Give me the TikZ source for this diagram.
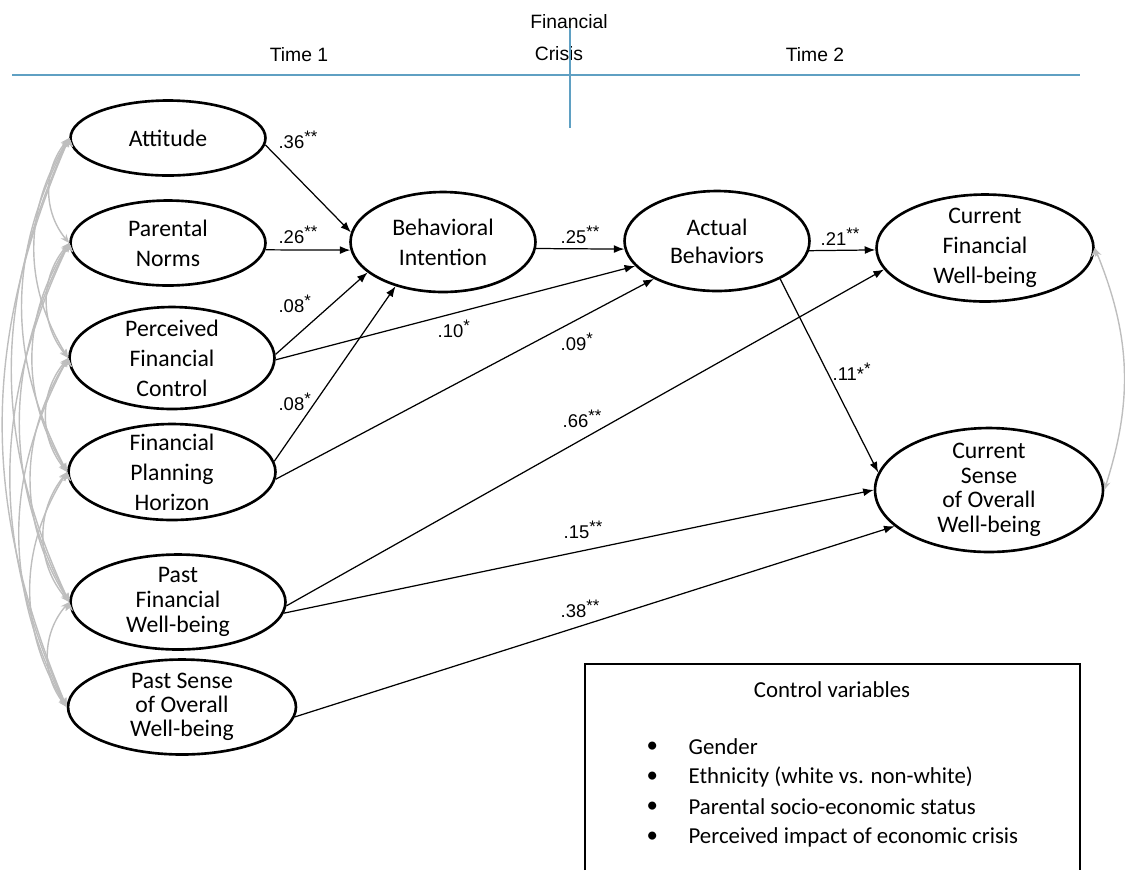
\documentclass[tikz,border=0pt]{standalone}
\usepackage{fontspec}
\setmainfont{Carlito}
\newfontfamily\arialfont{Liberation Sans}
\usetikzlibrary{shapes.geometric,arrows.meta}
\definecolor{timeblue}{RGB}{95,160,195}
\definecolor{covgray}{RGB}{190,190,190}
\newcommand{\sig}[1]{{\fontsize{9.5}{9.5}\selectfont\raisebox{3pt}{#1}}}
\tikzstyle{lv}=[shape=ellipse,
                draw=black,
                line width=1.5pt,
                inner xsep=0pt,
                inner ysep=-15pt,
                align=center,
                font=\fontsize{13.5}{17}\selectfont]
\tikzstyle{coef}=[inner sep=0pt,
                  anchor=base west,
                  font=\arialfont\fontsize{10.5}{12}\selectfont]
\tikzstyle{hdr}=[inner sep=0pt,
                 font=\arialfont\fontsize{11}{13}\selectfont]
\tikzstyle{cov}=[draw=covgray,
                 line width=0.8pt,
                 {Stealth[length=5pt,width=4pt]}-{Stealth[length=5pt,width=4pt]}]
\tikzstyle{ctrl}=[inner sep=0pt,
                  anchor=west,
                  font=\fontsize{13}{16}\selectfont]

\begin{document}
\begin{tikzpicture}[x=0.02cm,y=-0.02cm,
  >={Latex[length=6pt,width=4.5pt]},line width=0.7pt]
\useasboundingbox (0,0) rectangle (1125,870);

% time line
\node[hdr] (fin) at (569,22) {Financial};
\node[hdr] (cri) at (559,54) {Crisis};
\node[hdr] (t1) at (299,55) {Time 1};
\node[hdr] (t2) at (815,55) {Time 2};
\coordinate (hl) at (12,75);
\coordinate (hr) at (1080,75);
\coordinate (vt) at (570,28);
\coordinate (vb) at (570,128);
\draw[timeblue,line width=0.8pt] (hl) -- (hr);
\draw[timeblue,line width=0.8pt] (vt) -- (vb);

% time 1 variables
\node[lv,minimum width=3.9cm,minimum height=1.5cm] (att) at (168,138) {Attitude};
\node[lv,minimum width=3.9cm,minimum height=1.7cm] (pn) at (168,243) {Parental\\Norms};
\node[lv,minimum width=4.1cm,minimum height=2.04cm] (pfc) at (172,358) {Perceived\\Financial\\Control};
\node[lv,minimum width=4.14cm,minimum height=1.92cm] (fph) at (172,472) {Financial\\Planning\\Horizon};
\node[lv,minimum width=4.3cm,minimum height=1.9cm,font=\fontsize{13.5}{14}\selectfont] (pfw) at (178,602) {Past\\Financial\\Well-being};
\node[lv,minimum width=4.56cm,minimum height=1.9cm,font=\fontsize{13.5}{13.5}\selectfont] (psw) at (182,707) {Past Sense\\of Overall\\Well-being};

% time 2 variables
\node[lv,minimum width=3.7cm,minimum height=2cm] (bi) at (443,242) {Behavioral\\Intention};
\node[lv,minimum width=3.7cm,minimum height=2cm,font=\fontsize{13.5}{16}\selectfont] (ab) at (717,241) {Actual\\Behaviors};
\node[lv,minimum width=4.34cm,minimum height=2.14cm] (cfw) at (985,248) {Current\\Financial\\Well-being};
\node[lv,minimum width=4.56cm,minimum height=2.48cm,font=\fontsize{13.5}{14}\selectfont] (csw) at (989,490) {Current\\Sense\\of Overall\\Well-being};

% paths
\path[->] (att.-4) edge (bi.174);
\path[->] (pn.-4) edge (bi.185);
\path[->] (pfc.2) edge (bi.-158);
\path[->] (pfc.-1) edge (ab.197);
\path[->] (fph.6) edge (bi.223);
\path[->] (fph.-4) edge (ab.211);
\path[->] (pfw.-2) edge (cfw.192);
\path[->] (pfw.-6) edge (csw.180);
\path[->] (psw.-5) edge (csw.201);
\path[->] (bi.-4) edge (ab.185);
\path[->] (ab.-6) edge (cfw.181);
\path[->] (ab.-31) edge (csw.171);

% path coefficients
\node[coef] (c1) at (278,148) {.36\sig{**}};
\node[coef] (c2) at (278,243) {.26\sig{**}};
\node[coef] (c3) at (278,312) {.08\sig{*}};
\node[coef] (c4) at (437,337) {.10\sig{*}};
\node[coef] (c5) at (278,410) {.08\sig{*}};
\node[coef] (c6) at (560,350) {.09\sig{*}};
\node[coef] (c7) at (562,427) {.66\sig{**}};
\node[coef] (c8) at (563,538) {.15\sig{**}};
\node[coef] (c9) at (560,617) {.38\sig{**}};
\node[coef] (c10) at (560,243) {.25\sig{**}};
\node[coef] (c11) at (820,245) {.21\sig{**}};
\node[coef] (c12) at (832,380) {.11*\sig{*}};

% covariances
\path[cov] (att.west) edge[bend right=40] (pn.west);
\path[cov] (att.west) edge[bend right=32] (pfc.west);
\path[cov] (att.west) edge[bend right=28] (fph.west);
\path[cov] (att.west) edge[bend right=25] (pfw.west);
\path[cov] (att.west) edge[bend right=23] (psw.west);
\path[cov] (pn.west) edge[bend right=40] (pfc.west);
\path[cov] (pn.west) edge[bend right=32] (fph.west);
\path[cov] (pn.west) edge[bend right=28] (pfw.west);
\path[cov] (pn.west) edge[bend right=25] (psw.west);
\path[cov] (pfc.west) edge[bend right=40] (fph.west);
\path[cov] (pfc.west) edge[bend right=32] (pfw.west);
\path[cov] (pfc.west) edge[bend right=28] (psw.west);
\path[cov] (fph.west) edge[bend right=40] (pfw.west);
\path[cov] (fph.west) edge[bend right=32] (psw.west);
\path[cov] (pfw.west) edge[bend right=40] (psw.west);
\path[cov] (cfw.east) edge[bend left=20] (csw.east);

% control variables
\coordinate (bl) at (585,870);
\coordinate (tl) at (585,664);
\coordinate (tr) at (1080,664);
\coordinate (br) at (1080,870);
\draw[line width=0.8pt] (bl) -- (tl) -- (tr) -- (br);
\node[font=\fontsize{13}{16}\selectfont] (ctitle) at (832,690) {Control variables};
\node[ctrl] (g1) at (688,747) {Gender};
\node[ctrl] (g2) at (688,777) {Ethnicity (white vs. non-white)};
\node[ctrl] (g3) at (688,807) {Parental socio-economic status};
\node[ctrl] (g4) at (688,837) {Perceived impact of economic crisis};
\node[ctrl] (b1) at (646,747) {\textbullet};
\node[ctrl] (b2) at (646,777) {\textbullet};
\node[ctrl] (b3) at (646,807) {\textbullet};
\node[ctrl] (b4) at (646,837) {\textbullet};

\end{tikzpicture}
\end{document}
